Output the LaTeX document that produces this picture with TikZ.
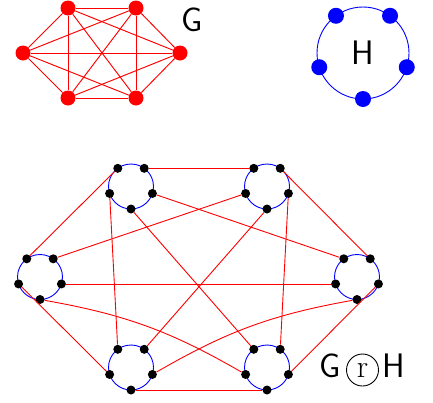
\documentclass[tikz,border=0pt]{standalone}
\usetikzlibrary{calc}
\tikzset{
  gdot/.style={circle, fill=red, draw=none, inner sep=0pt, minimum size=15pt},
  hdot/.style={circle, fill=blue, draw=none, inner sep=0pt, minimum size=16pt},
  pdot/.style={circle, fill=black, draw=none, inner sep=0pt, minimum size=9pt},
  gedge/.style={draw=red, line width=0.95pt},
  pedge/.style={draw=red, line width=0.9pt},
  hcirc/.style={draw=blue, line width=0.9pt},
  lab/.style={inner sep=0pt, font=\sffamily\fontsize{34}{40}\selectfont},
  rcirc/.style={circle, draw=black, line width=0.9pt, inner sep=0pt, minimum size=32pt,
    font=\rmfamily\fontsize{32}{32}\selectfont}
}
\newcommand\mkcluster[2]{%
  \draw[hcirc] #2 circle[radius=22.5];
  \foreach \a/\n in {234/ul,306/ur,18/r,90/b,162/l}{%
    \node[pdot] (#1\n) at ($#2+(\a:22.5)$) {};
  }%
}
\begin{document}
\begin{tikzpicture}[x=1pt,y=-1pt]
\useasboundingbox (0,0) rectangle (433,402);
% ---- G = K6 ----
\node[gdot] (g1) at (68,8) {};
\node[gdot] (g2) at (136,8) {};
\node[gdot] (g3) at (180,53) {};
\node[gdot] (g4) at (136,98) {};
\node[gdot] (g5) at (68,98) {};
\node[gdot] (g6) at (23,53) {};
\foreach \i/\j in {1/2,1/3,1/4,1/5,1/6,2/3,2/4,2/5,2/6,3/4,3/5,3/6,4/5,4/6,5/6}
  \draw[gedge] (g\i) -- (g\j);
\node[lab] (lG) at (192,19.5) {G};
% ---- H = C5 ----
\draw[hcirc] (363,53) circle[radius=46];
\foreach \a/\n in {234/ul,306/ur,18/r,90/b,162/l}
  \node[hdot] (h\n) at ($(363,53)+(\a:46)$) {};
\node[lab] (lH) at (363,53) {H};
% ---- product ----
\mkcluster{TL}{(131,186.5)}
\mkcluster{TR}{(267,186.5)}
\mkcluster{L}{(40,277)}
\mkcluster{R}{(357,277)}
\mkcluster{BL}{(131,367.5)}
\mkcluster{BR}{(267,367.5)}
\draw[pedge] (TLul) -- (Lul);
\draw[pedge] (TLur) -- (TRul);
\draw[pedge] (TLr) -- (Rul);
\draw[pedge] (TLl) -- (BLul);
\draw[pedge] (TLb) -- (BRul);
\draw[pedge] (TRur) -- (Rur);
\draw[pedge] (TRl) -- (Lur);
\draw[pedge] (TRr) -- (BRur);
\draw[pedge] (TRb) -- (BLur);
\draw[pedge] (Rl) -- (Lr);
\draw[pedge] (Rb) to[bend right=10] (BLr);
\draw[pedge] (Rr) -- (BRr);
\draw[pedge] (Ll) -- (BLl);
\draw[pedge] (Lb) to[bend left=10] (BRl);
\draw[pedge] (BLb) -- (BRb);
% ---- label ----
\node[lab] (pG) at (330,366) {G};
\node[rcirc] (pr) at (362.5,370) {r};
\node[lab] (pH) at (394,366) {H};
\end{tikzpicture}
\end{document}
